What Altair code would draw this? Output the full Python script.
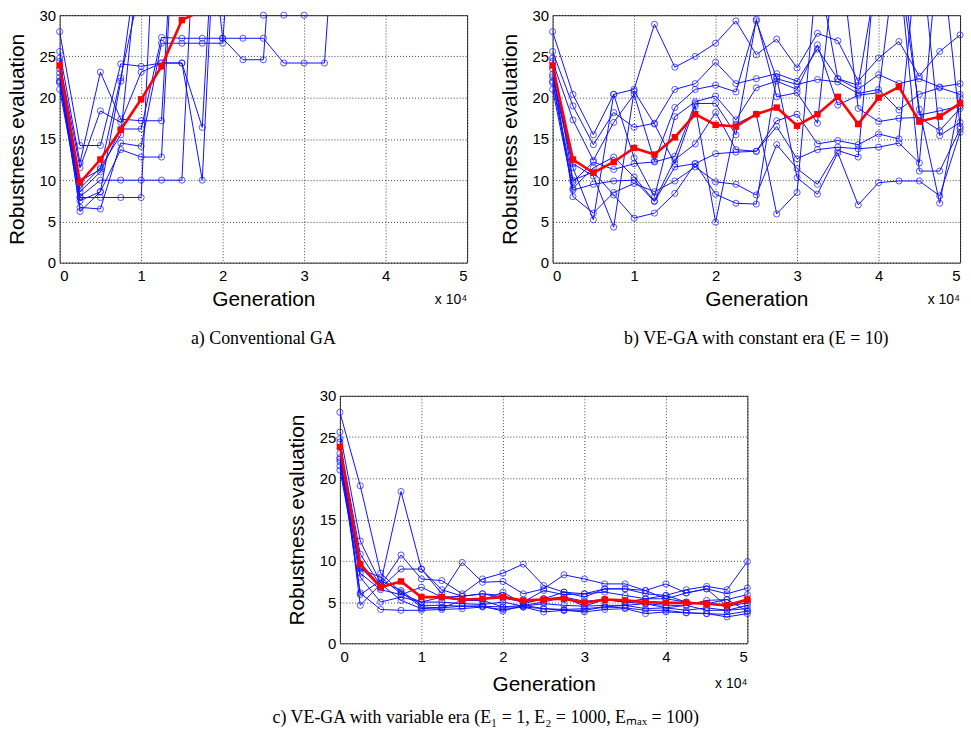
import altair as alt
import pandas as pd

# Generation (in units of 10^4)
GEN = [0, 0.25, 0.5, 0.75, 1.0, 1.25, 1.5, 1.75, 2.0, 2.25, 2.5,
       2.75, 3.0, 3.25, 3.5, 3.75, 4.0, 4.25, 4.5, 4.75, 5.0]

# ---- a) Conventional GA (values above 30 are off the chart) ----
A1 = [28.0, 14.2, 14.2, 24.1, 23.8, 24.2, 24.2, 10.0, 60, 60, 60, 60, 60, 60, 60, 60, 60, 60, 60, 60, 60]
A2 = [25.6, 12.1, 23.1, 17.4, 17.2, 17.2, 60, 60, 60, 60, 60, 60, 60, 60, 60, 60, 60, 60, 60, 60, 60]
A3 = [24.4, 11.5, 18.4, 17.0, 23.1, 24.2, 24.2, 16.4, 60, 60, 60, 60, 60, 60, 60, 60, 60, 60, 60, 60, 60]
A4 = [22.5, 9.9, 11.3, 22.4, 34, 60, 60, 60, 60, 60, 60, 60, 60, 60, 60, 60, 60, 60, 60, 60, 60]
A5 = [22.0, 8.6, 11.0, 16.2, 16.2, 27.3, 27.2, 27.2, 27.2, 27.2, 27.2, 24.2, 24.2, 24.2, 60, 60, 60, 60, 60, 60, 60]
A6 = [21.8, 8.0, 10.0, 10.0, 10.0, 10.0, 10.0, 60, 60, 60, 60, 60, 60, 60, 60, 60, 60, 60, 60, 60, 60]
A7 = [21.0, 7.9, 7.9, 7.9, 7.9, 60, 60, 60, 60, 60, 60, 60, 60, 60, 60, 60, 60, 60, 60, 60, 60]
A8 = [22.0, 6.7, 6.5, 14.5, 14.1, 26.6, 26.6, 26.6, 26.6, 60, 60, 60, 60, 60, 60, 60, 60, 60, 60, 60, 60]
A9 = [23.5, 6.2, 8.6, 13.7, 12.8, 12.8, 60, 60, 60, 60, 60, 60, 60, 60, 60, 60, 60, 60, 60, 60, 60]
A10 = [24.8, 7.5, 8.6, 22.0, 40, 50, 50, 50, 27.2, 24.6, 24.6, 60, 60, 60, 60, 60, 60, 60, 60, 60, 60]
A11 = [23.0, 9.0, 11.5, 15.5, 40, 50, 50, 50, 50, 45, 30.0, 30.0, 30.0, 60, 60, 60, 60, 60, 60, 60, 60]
A_MEAN = [23.9, 9.7, 12.5, 16.1, 19.8, 23.8, 29.4, 30.6, 33, 36, 38, 40, 42, 44, 46, 48, 50, 50, 50, 50, 50]

# ---- b) VE-GA with constant era ----
B1 = [28.0, 20.4, 15.5, 20.4, 21.0, 28.9, 23.7, 25.0, 26.6, 29.3, 25.2, 27.1, 23.6, 27.8, 26.9, 22.0, 24.8, 26.8, 22.6, 25.6, 27.6]
B2 = [25.6, 19.0, 14.3, 18.2, 16.4, 16.9, 21.0, 21.7, 24.3, 21.7, 22.3, 22.9, 22.0, 25.9, 22.3, 21.0, 22.8, 21.7, 22.3, 21.3, 21.7]
B3 = [24.4, 17.3, 12.4, 17.0, 20.4, 12.3, 18.8, 21.0, 21.5, 20.7, 29.3, 22.3, 21.6, 22.2, 21.9, 20.5, 21.0, 18.5, 20.4, 21.2, 20.4]
B4 = [22.5, 11.5, 5.2, 20.4, 12.7, 8.0, 17.7, 19.5, 20.2, 17.3, 21.2, 22.0, 21.0, 26.4, 19.1, 20.3, 20.6, 40, 17.9, 18.4, 19.0]
B5 = [22.0, 9.8, 12.2, 11.3, 12.0, 12.2, 12.9, 19.3, 19.3, 15.5, 29.5, 20.1, 20.6, 16.9, 40, 18.7, 17.1, 17.5, 17.6, 16.0, 18.7]
B6 = [21.8, 9.0, 11.5, 12.8, 10.4, 7.5, 12.5, 14.4, 18.2, 13.7, 13.5, 17.2, 18.0, 14.4, 14.8, 14.3, 15.6, 15.0, 40, 15.4, 17.0]
B7 = [21.0, 8.8, 9.5, 9.9, 10.0, 7.4, 11.6, 12.0, 13.2, 13.4, 13.5, 16.5, 12.6, 13.7, 14.0, 13.8, 14.0, 14.5, 12.1, 40, 16.5]
B8 = [23.5, 8.0, 6.0, 8.5, 9.6, 8.6, 9.9, 11.6, 9.8, 9.5, 8.2, 14.3, 11.4, 9.5, 13.6, 12.8, 40, 36, 11.1, 11.1, 16.2]
B9 = [24.8, 10.0, 11.0, 8.2, 5.4, 6.0, 8.4, 12.0, 8.3, 7.2, 7.1, 22.5, 10.3, 8.3, 13.3, 7.0, 9.7, 9.9, 9.9, 8.1, 15.8]
B10 = [22.8, 12.0, 10.5, 4.3, 20.8, 16.8, 12.0, 19.0, 4.9, 16.8, 18.0, 5.9, 8.5, 36, 22.3, 21.5, 36, 36, 18.6, 7.2, 20.0]
B_MEAN = [23.9, 12.5, 10.9, 12.2, 13.9, 13.1, 15.2, 18.0, 16.7, 16.5, 18.0, 18.8, 16.6, 18.0, 20.1, 16.8, 20.0, 21.3, 17.1, 17.7, 19.3]

# ---- c) VE-GA with variable era ----
C1 = [28.0, 19.1, 8.5, 6.2, 4.4, 4.3, 4.5, 4.5, 4.4, 4.4, 4.2, 4.1, 4.2, 4.4, 4.3, 4.0, 4.0, 3.7, 3.6, 3.2, 3.6]
C2 = [25.6, 12.4, 7.3, 18.4, 9.0, 6.5, 5.7, 6.0, 5.5, 5.0, 6.4, 5.9, 6.0, 6.2, 5.8, 5.4, 5.4, 5.0, 4.8, 4.5, 4.9]
C3 = [24.4, 10.8, 7.0, 10.7, 7.8, 7.6, 6.0, 7.8, 8.5, 9.6, 7.0, 6.2, 5.6, 6.6, 6.6, 6.0, 5.8, 6.5, 6.9, 6.5, 9.9]
C4 = [22.5, 9.2, 6.7, 9.0, 9.0, 6.0, 9.8, 7.4, 7.5, 6.0, 6.6, 8.3, 7.8, 7.2, 7.2, 6.4, 7.2, 6.1, 6.6, 6.0, 6.7]
C5 = [22.0, 8.5, 6.5, 5.9, 6.8, 5.6, 5.2, 5.2, 6.2, 4.8, 5.4, 5.6, 5.1, 5.3, 5.0, 4.8, 4.6, 4.6, 5.2, 5.3, 5.9]
C6 = [21.0, 8.0, 5.0, 5.6, 5.0, 5.0, 4.8, 4.7, 5.0, 4.5, 4.8, 4.6, 4.5, 4.6, 4.6, 4.2, 4.3, 4.0, 4.3, 4.0, 4.6]
C7 = [23.0, 6.1, 4.1, 4.0, 4.0, 4.1, 4.2, 4.4, 4.1, 4.4, 3.8, 4.0, 3.8, 4.1, 4.2, 3.6, 3.8, 3.7, 3.6, 3.5, 3.9]
C8 = [22.3, 5.9, 7.6, 6.4, 4.6, 4.6, 4.5, 4.5, 3.9, 4.6, 4.2, 4.0, 4.0, 4.4, 4.6, 4.8, 4.3, 4.6, 4.0, 4.0, 4.2]
C9 = [24.8, 4.6, 7.2, 5.2, 4.2, 4.3, 5.2, 5.2, 4.4, 4.6, 5.0, 5.6, 4.5, 5.3, 5.0, 5.4, 5.8, 5.0, 4.8, 5.3, 3.9]
C10 = [21.5, 9.0, 8.0, 6.0, 5.0, 5.6, 5.7, 6.0, 5.8, 5.0, 5.4, 6.2, 6.0, 6.6, 6.6, 6.4, 5.4, 6.1, 6.6, 4.5, 5.2]
C_MEAN = [23.8, 9.6, 6.8, 7.5, 5.6, 5.6, 5.3, 5.4, 5.6, 5.2, 5.3, 5.4, 4.9, 5.3, 5.2, 5.0, 4.9, 4.9, 4.8, 4.6, 5.3]

X_TICKS = [0, 1, 2, 3, 4, 5]
Y_TICKS = [0, 5, 10, 15, 20, 25, 30]

CAP_A = "a) Conventional GA"
CAP_B = "b) VE-GA with constant era (E = 10)"
CAP_C = "c) VE-GA with variable era (E\u2081 = 1, E\u2082 = 1000, E\u2098\u2090\u2093 = 100)"

BLUE = "#1010ff"
RED = "#ff0000"
SANS = "Liberation Sans"
SERIF = "Liberation Serif"
W, H = 410, 249


def runs_df(runs):
    rows = []
    for i, run in enumerate(runs):
        for g, v in zip(GEN, run):
            rows.append({"gen": g, "val": v, "run": f"run{i}"})
    return pd.DataFrame(rows)


def mean_df(mean):
    return pd.DataFrame({"gen": GEN, "val": mean})


def panel(runs, mean, caption=None, xtitle_pad=5, note_dy=38):
    x = alt.X("gen:Q", scale=alt.Scale(domain=[0, 5], nice=False, zero=False),
              axis=alt.Axis(values=X_TICKS, title="Generation", format="d",
                            titlePadding=xtitle_pad))
    y = alt.Y("val:Q", scale=alt.Scale(domain=[0, 30], nice=False),
              axis=alt.Axis(values=Y_TICKS, title="Robustness evaluation"))
    rdf = runs_df(runs)
    mdf = mean_df(mean)
    lines = alt.Chart(rdf).mark_line(color=BLUE, strokeWidth=1, clip=True).encode(
        x=x, y=y, detail="run:N")
    pts = alt.Chart(rdf).transform_filter("datum.val <= 30.3").mark_point(
        shape="circle", filled=False, color=BLUE, size=38, strokeWidth=1).encode(x=x, y=y)
    mline = alt.Chart(mdf).mark_line(color=RED, strokeWidth=2.6, clip=True).encode(x=x, y=y)
    mpts = alt.Chart(mdf).transform_filter("datum.val <= 30.3").mark_point(
        shape="square", filled=True, color=RED, size=42, opacity=1).encode(x=x, y=y)
    note = alt.Chart(pd.DataFrame({"t": ["x 10\u2074"]})).mark_text(
        align="right", baseline="middle", font=SANS, fontSize=14, color="black").encode(
        x=alt.value(W), y=alt.value(H + note_dy), text="t:N")
    props = dict(width=W, height=H)
    if caption:
        props["title"] = alt.TitleParams(caption, orient="bottom", anchor="middle",
                                         font=SERIF, fontSize=18, fontWeight="normal",
                                         color="black", offset=21)
    return alt.layer(lines, pts, mline, mpts, note).properties(**props)


pa = panel([A1, A2, A3, A4, A5, A6, A7, A8, A9, A10, A11], A_MEAN, CAP_A)
pb = panel([B1, B2, B3, B4, B5, B6, B7, B8, B9, B10], B_MEAN, CAP_B)
pc = panel([C1, C2, C3, C4, C5, C6, C7, C8, C9, C10], C_MEAN, xtitle_pad=9, note_dy=41)

spacer = alt.Chart(pd.DataFrame({"t": [""]})).mark_text(opacity=0).encode(
    x=alt.value(0), y=alt.value(0), text="t:N").properties(
    width=207, height=H, view=alt.ViewBackground(strokeOpacity=0))

top = alt.hconcat(pa, pb, spacing=30)
bottom = alt.hconcat(spacer, pc, spacing=20)

chart = alt.vconcat(top, bottom, spacing=39).properties(
    background="white",
    title=alt.TitleParams(CAP_C, orient="bottom", anchor="middle", font=SERIF,
                          fontSize=18, fontWeight="normal", color="black", offset=15)
).configure_view(stroke="#333333", strokeWidth=1).configure_axis(
    labelFont=SANS, labelFontSize=15, labelColor="black",
    titleFont=SANS, titleFontSize=21, titleFontWeight="normal", titleColor="black",
    grid=True, gridColor="black", gridDash=[1, 2], gridOpacity=0.75, gridWidth=1,
    ticks=False, domain=False
).configure_axisY(titlePadding=12, labelPadding=4).configure_axisX(labelPadding=6)

chart.save("out.html", embed_options={"renderer": "svg", "actions": False})
